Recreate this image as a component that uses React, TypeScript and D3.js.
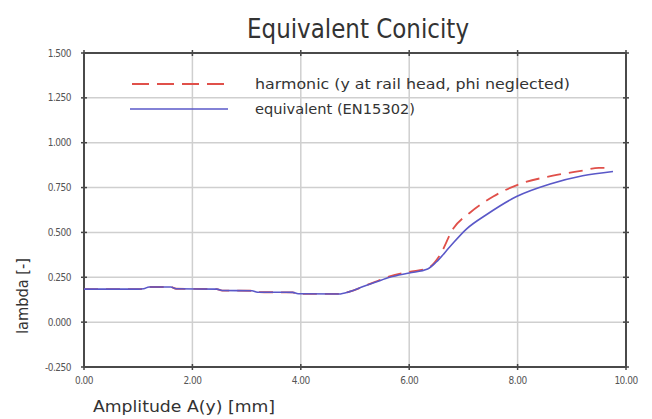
import React from "react";
import * as d3 from "d3";

// Equivalent conicity vs. wheelset amplitude
const xTicks = [0, 2, 4, 6, 8, 10];
const yTicks = [-0.25, 0, 0.25, 0.5, 0.75, 1.0, 1.25, 1.5];

const equivalentAmp = [
  0, 0.5, 1.0, 1.1, 1.2, 1.6, 1.7, 2.45, 2.55, 3.1, 3.2, 3.85, 3.95, 4.7,
  4.9, 5.15, 5.4, 5.64, 6.0, 6.34, 6.5, 6.75, 7.06, 7.43, 7.98, 8.6, 9.2, 9.76,
];
const equivalent = [
  0.184, 0.184, 0.184, 0.186, 0.196, 0.196, 0.186, 0.184, 0.176, 0.175, 0.167,
  0.166, 0.158, 0.157, 0.17, 0.198, 0.225, 0.25, 0.274, 0.296, 0.335, 0.42,
  0.52, 0.6, 0.7, 0.77, 0.816, 0.84,
];

const harmonicAmp = [
  0, 0.5, 1.0, 1.1, 1.2, 1.6, 1.7, 2.45, 2.55, 3.1, 3.2, 3.85, 3.95, 4.7,
  4.9, 5.15, 5.4, 5.64, 6.0, 6.34, 6.56, 6.81, 7.12, 7.55, 8.04, 8.65, 9.2,
  9.5, 9.65,
];
const harmonic = [
  0.184, 0.184, 0.184, 0.186, 0.196, 0.196, 0.186, 0.184, 0.176, 0.175, 0.167,
  0.166, 0.158, 0.157, 0.17, 0.198, 0.228, 0.255, 0.28, 0.3, 0.37, 0.52, 0.61,
  0.7, 0.77, 0.816, 0.845, 0.86, 0.86,
];

const W = 652;
const H = 419;
const left = 84;
const right = 626;
const top = 53;
const bottom = 367;

const font = "'DejaVu Sans Condensed', 'DejaVu Sans', sans-serif";

export default function App() {
  const x = d3.scaleLinear().domain([0, 10]).range([left, right]);
  const y = d3.scaleLinear().domain([-0.25, 1.5]).range([bottom, top]);

  const line = d3
    .line<[number, number]>()
    .x((d) => x(d[0]))
    .y((d) => y(d[1]))
    .curve(d3.curveMonotoneX);

  const eqPath = line(equivalentAmp.map((a, i) => [a, equivalent[i]]))!;
  const harPath = line(harmonicAmp.map((a, i) => [a, harmonic[i]]))!;

  const red = "#e0504a";
  const blue = "#5a58c8";

  return (
    <svg
      width={W}
      height={H}
      style={{ position: "absolute", left: 0, top: 0, background: "#fff" }}
    >
      <rect x={0} y={0} width={W} height={H} fill="#fff" />
      {/* title */}
      <text
        x={358}
        y={38}
        textAnchor="middle"
        fontFamily={font}
        fontSize={26}
        fill="#333"
        textLength={222}
        lengthAdjust="spacingAndGlyphs"
      >
        Equivalent Conicity
      </text>

      {/* grid */}
      {xTicks.map((t) => (
        <line
          key={"gx" + t}
          x1={x(t)}
          x2={x(t)}
          y1={top}
          y2={bottom}
          stroke="#cfcfcf"
          strokeWidth={1.5}
        />
      ))}
      {yTicks.map((t) => (
        <line
          key={"gy" + t}
          x1={left}
          x2={right}
          y1={y(t)}
          y2={y(t)}
          stroke="#cfcfcf"
          strokeWidth={1.5}
        />
      ))}

      {/* tick marks on the frame */}
      {xTicks.map((t) => (
        <g key={"tx" + t} stroke="#444" strokeWidth={1.5}>
          <line x1={x(t)} x2={x(t)} y1={bottom - 3} y2={bottom + 3} />
          <line x1={x(t)} x2={x(t)} y1={top - 3} y2={top + 3} />
        </g>
      ))}
      {yTicks.map((t) => (
        <g key={"ty" + t} stroke="#444" strokeWidth={1.5}>
          <line x1={left - 3} x2={left + 3} y1={y(t)} y2={y(t)} />
          <line x1={right - 3} x2={right + 3} y1={y(t)} y2={y(t)} />
        </g>
      ))}

      {/* frame */}
      <rect
        x={left}
        y={top}
        width={right - left}
        height={bottom - top}
        fill="none"
        stroke="#4a4a4a"
        strokeWidth={2}
      />

      {/* series */}
      <path
        d={harPath}
        fill="none"
        stroke={red}
        strokeWidth={1.8}
        strokeDasharray="14 8"
      />
      <path d={eqPath} fill="none" stroke={blue} strokeWidth={1.6} />

      {/* legend */}
      <line
        x1={132}
        x2={226}
        y1={84}
        y2={84}
        stroke={red}
        strokeWidth={1.8}
        strokeDasharray="17 8"
      />
      <text
        x={255}
        y={89}
        fontFamily={font}
        fontSize={14}
        fill="#333"
        textLength={315}
        lengthAdjust="spacingAndGlyphs"
      >
        harmonic (y at rail head, phi neglected)
      </text>
      <line
        x1={130}
        x2={228}
        y1={109}
        y2={109}
        stroke={blue}
        strokeWidth={1.6}
      />
      <text
        x={255}
        y={114}
        fontFamily={font}
        fontSize={14}
        fill="#333"
        textLength={160}
        lengthAdjust="spacingAndGlyphs"
      >
        equivalent (EN15302)
      </text>

      {/* tick labels */}
      {xTicks.map((t) => (
        <text
          key={"lx" + t}
          x={x(t)}
          y={384}
          textAnchor="middle"
          fontFamily={font}
          fontSize={10}
          fill="#555"
          letterSpacing={-0.5}
        >
          {t.toFixed(2)}
        </text>
      ))}
      {yTicks.map((t) => (
        <text
          key={"ly" + t}
          x={71}
          y={y(t) + 3.5}
          textAnchor="end"
          fontFamily={font}
          fontSize={10}
          fill="#555"
          letterSpacing={-0.5}
        >
          {t.toFixed(3)}
        </text>
      ))}

      {/* axis titles */}
      <text
        x={93}
        y={412}
        fontFamily={font}
        fontSize={16}
        fill="#333"
        textLength={182}
        lengthAdjust="spacingAndGlyphs"
      >
        Amplitude A(y) [mm]
      </text>
      <text
        transform={`translate(28, 296) rotate(-90)`}
        textAnchor="middle"
        fontFamily={font}
        fontSize={16}
        fill="#333"
        textLength={76}
        lengthAdjust="spacingAndGlyphs"
      >
        lambda [-]
      </text>
    </svg>
  );
}
